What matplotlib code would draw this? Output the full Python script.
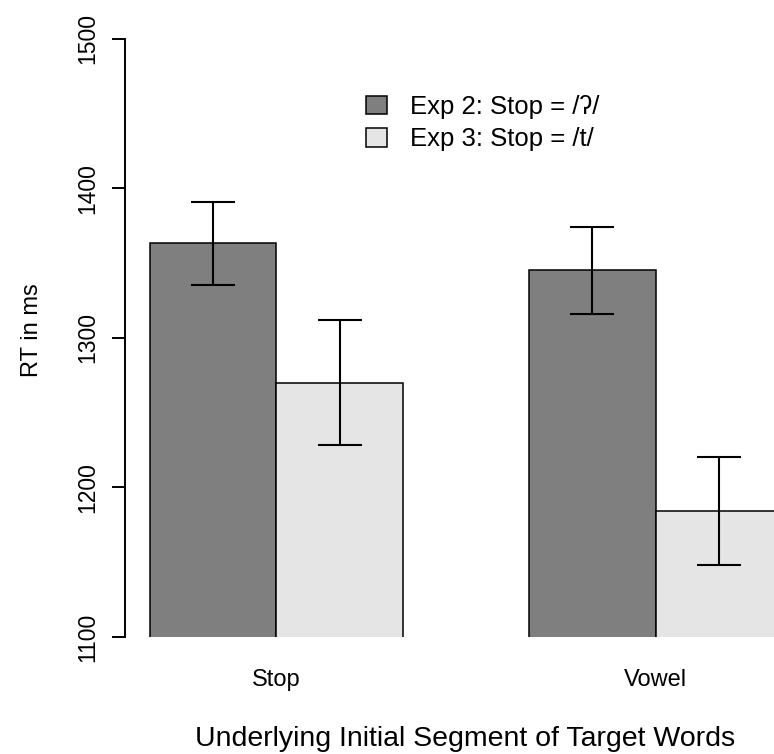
import matplotlib.pyplot as plt
from matplotlib.patches import Patch

plt.rcParams['font.family'] = ['Liberation Sans', 'DejaVu Sans']

# mean RT (ms) per underlying initial segment, with error bar half-widths
groups = ['Stop', 'Vowel']
exp2_rt = [1363, 1345]
exp2_err = [27.5, 29]
exp3_rt = [1270, 1184]
exp3_err = [42, 36]
series_labels = ['Exp 2: Stop = /ʔ/', 'Exp 3: Stop = /t/']
colors = ['#7f7f7f', '#e5e5e5']

fig = plt.figure(figsize=(7.74, 7.54), dpi=100)
# plot region runs past the right edge of the figure, as in the original export
ax = fig.add_axes([124.5 / 774, 117 / 754, 683 / 774, 598.5 / 754])

centers = [2, 5]
x2 = [c - 0.5 for c in centers]
x3 = [c + 0.5 for c in centers]
ax.bar(x2, exp2_rt, width=1.0, color=colors[0], edgecolor='black', linewidth=1.1)
ax.bar(x3, exp3_rt, width=1.0, color=colors[1], edgecolor='black', linewidth=1.1)
ax.errorbar(x2, exp2_rt, yerr=exp2_err, fmt='none', ecolor='black',
            elinewidth=1.5, capsize=16, capthick=1.5)
ax.errorbar(x3, exp3_rt, yerr=exp3_err, fmt='none', ecolor='black',
            elinewidth=1.5, capsize=16, capthick=1.5)

ax.set_xlim(0.8, 6.2)
ax.set_ylim(1100, 1500)
ax.set_yticks([1100, 1200, 1300, 1400, 1500])
ax.set_yticklabels(['1100', '1200', '1300', '1400', '1500'],
                   rotation=90, va='center', fontsize=16.5)
ax.set_xticks(centers)
ax.set_xticklabels(groups, fontsize=17)
ax.tick_params(axis='x', length=0, pad=23)
ax.tick_params(axis='y', length=9.5, width=1.4, pad=9)

for side in ['top', 'right', 'bottom']:
    ax.spines[side].set_visible(False)
ax.spines['left'].set_linewidth(1.4)

fig.text(465 / 774, 1 - 746.5 / 754, 'Underlying Initial Segment of Target Words',
         ha='center', va='baseline', fontsize=20.5)
fig.text(32 / 774, 1 - 330 / 754, 'RT in ms', rotation=90,
         ha='center', va='center', fontsize=17)

handles = [Patch(facecolor=c, edgecolor='black', linewidth=1.1) for c in colors]
ax.legend(handles, series_labels, loc='center left',
          bbox_to_anchor=(366 / 774, 1 - 123 / 754), bbox_transform=fig.transFigure,
          frameon=False, fontsize=18.5, handlelength=0.8, handleheight=0.75,
          handletextpad=0.9, labelspacing=0.32, borderpad=0, borderaxespad=0)

fig.savefig('out.png', dpi=100)
